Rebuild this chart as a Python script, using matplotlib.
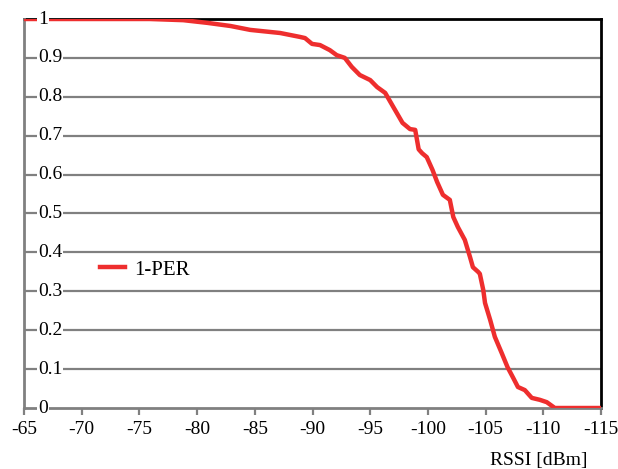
import numpy as np
import matplotlib
matplotlib.use("Agg")
import matplotlib.pyplot as plt

plt.rcParams['font.family'] = ['Liberation Serif', 'DejaVu Serif']

rssi = [-65.0, -75.9, -78.8, -80.9, -82.9, -84.6, -87.2, -88.9, -89.35, -89.96,
        -90.65, -91.5, -92.1, -92.8, -93.4, -94.1, -95.0, -95.6, -96.3, -97.0,
        -97.8, -98.45, -98.9, -99.05, -99.2, -99.5, -99.9, -100.4, -100.8, -101.3,
        -101.9, -102.2, -102.6, -103.2, -103.65, -103.9, -104.35, -104.5, -104.8, -104.95,
        -105.4, -105.8, -106.4, -106.9, -107.4, -107.8, -108.4, -109.0, -109.7, -110.3,
        -111.0, -115.0]
one_minus_per = [1.0, 1.0, 0.997, 0.99, 0.982, 0.972, 0.964, 0.954, 0.951, 0.936,
                 0.933, 0.92, 0.907, 0.9, 0.877, 0.856, 0.843, 0.825, 0.81, 0.774,
                 0.733, 0.717, 0.715, 0.69, 0.665, 0.655, 0.645, 0.612, 0.581, 0.548,
                 0.535, 0.491, 0.465, 0.432, 0.388, 0.362, 0.35, 0.345, 0.303, 0.27,
                 0.226, 0.183, 0.141, 0.105, 0.077, 0.054, 0.046, 0.026, 0.021, 0.015,
                 0.0, 0.0]

xticks = list(range(-65, -116, -5))
yticks = [0, 0.1, 0.2, 0.3, 0.4, 0.5, 0.6, 0.7, 0.8, 0.9, 1]
ylabels = ['0', '0.1', '0.2', '0.3', '0.4', '0.5', '0.6', '0.7', '0.8', '0.9', '1']

fig = plt.figure(figsize=(6.18, 4.69), dpi=100)
ax = fig.add_axes([24/618, 61/469, 577/618, 389/469])

grey = '#808080'
for y in yticks[1:-1]:
    ax.axhline(y, color=grey, lw=1.6, zorder=1)

ax.plot(rssi, one_minus_per, color='#ee2e2e', lw=3.2, label='1-PER',
        solid_joinstyle='round', zorder=3)

ax.set_xlim(-65, -115)
ax.set_ylim(0, 1)
ax.set_xticks(xticks)
ax.set_xticklabels([str(t) for t in xticks], fontsize=14)
ax.set_yticks([])

for s in ['left', 'bottom']:
    ax.spines[s].set_color(grey)
    ax.spines[s].set_linewidth(2)
for s in ['top', 'right']:
    ax.spines[s].set_color('black')
    ax.spines[s].set_linewidth(2)
ax.spines['top'].set_zorder(2)

ax.tick_params(axis='x', direction='out', length=5, width=1.6, color=grey, pad=4)

for y, lab in zip(yticks, ylabels):
    ax.text(14/577, y, lab, transform=ax.get_yaxis_transform(), fontsize=14,
            ha='left', va='center', zorder=4,
            bbox=dict(facecolor='white', edgecolor='none', pad=0.5))

ax.legend(loc='center left', bbox_to_anchor=(0.1, 0.355), frameon=False,
          fontsize=15, handlelength=1.2, handletextpad=0.4)

fig.text(587/618, 1 - 460/469, 'RSSI [dBm]', fontsize=14, ha='right', va='center')

fig.savefig('out.png', dpi=100)
